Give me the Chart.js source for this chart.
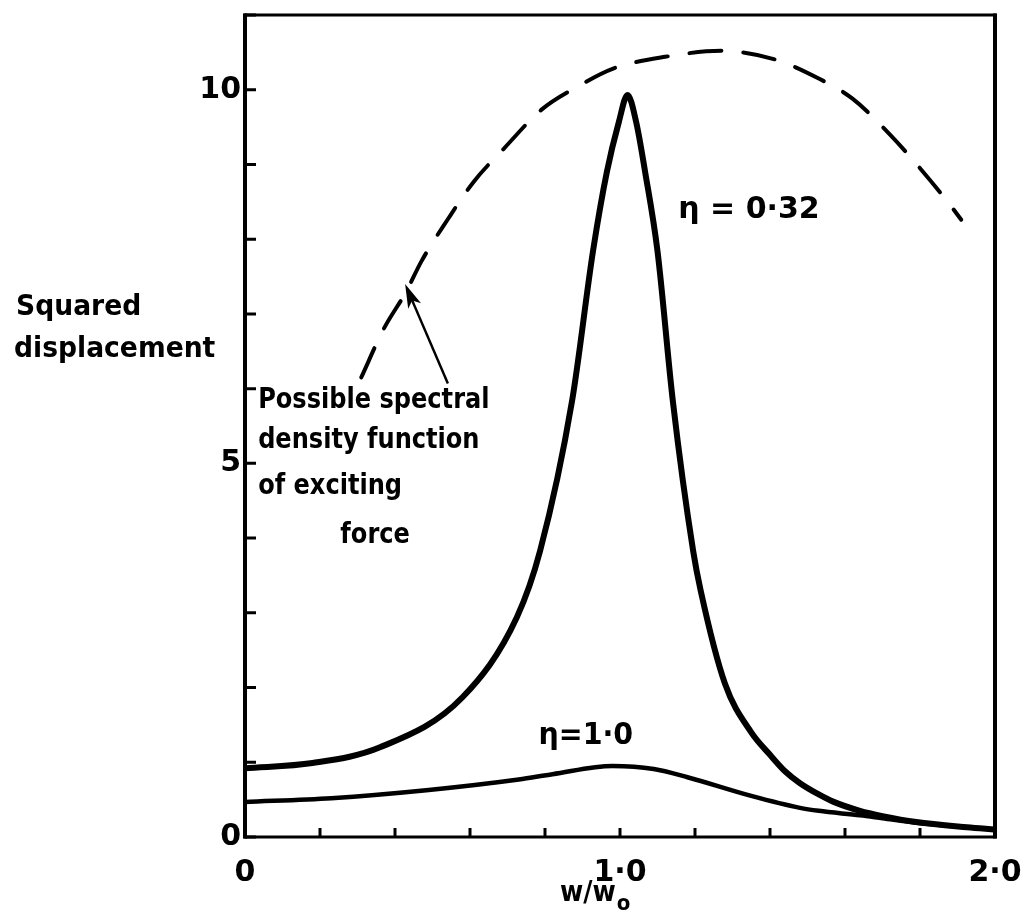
<!DOCTYPE html>
<html>
<head>
<meta charset="utf-8">
<script src="https://cdn.jsdelivr.net/npm/chart.js@4.4.0/dist/chart.umd.min.js"></script>
<style>
  html, body { margin: 0; padding: 0; background: #fff; }
  #wrap { width: 1032px; height: 914px; position: relative; }
</style>
</head>
<body>
<div id="wrap"><canvas id="respChart"></canvas></div>
<script>
// frequency ratio w/w0 and squared displacement
const ratioLow = [0, 0.18, 0.36, 0.58, 0.725, 0.787, 0.872, 0.928, 0.965, 0.997, 1.02, 1.043, 1.067, 1.10, 1.141, 1.195, 1.215, 1.28, 1.35, 1.40, 1.44, 1.48, 1.53, 1.57, 1.64, 1.70, 1.79, 1.925, 2.0];
const dispLow  = [0.92, 0.99, 1.2, 1.87, 2.94, 3.83, 5.83, 7.84, 8.9, 9.57, 9.93, 9.57, 8.9, 7.84, 5.83, 3.83, 3.3, 2.05, 1.4, 1.1, 0.88, 0.72, 0.57, 0.47, 0.35, 0.28, 0.2, 0.13, 0.1];

const ratioHigh = [0, 0.23, 0.49, 0.73, 0.82, 0.98, 1.09, 1.18, 1.35, 1.48, 1.53, 1.64, 1.70, 1.79, 1.925, 2.0];
const dispHigh  = [0.47, 0.52, 0.63, 0.77, 0.84, 0.95, 0.91, 0.80, 0.55, 0.39, 0.35, 0.29, 0.25, 0.19, 0.13, 0.1];

// possible spectral density of the exciting force (dashed)
const ratioForce = [0.31, 0.37, 0.43, 0.47, 0.54, 0.61, 0.69, 0.79, 0.89, 0.98, 1.12, 1.27, 1.41, 1.53, 1.62, 1.72, 1.80, 1.88, 1.91];
const dispForce  = [6.15, 6.8, 7.3, 7.7, 8.26, 8.77, 9.21, 9.73, 10.05, 10.28, 10.44, 10.52, 10.41, 10.15, 9.88, 9.4, 8.95, 8.46, 8.26];

const xLabelValues = [0, 1, 2];
const xLabelTexts = ['0', '1·0', '2·0'];
const yLabelValues = [0, 5, 10];

function toPoints(xs, ys) {
    return xs.map((v, i) => ({ x: v, y: ys[i] }));
}

function squeezeText(ctx, str, px, py, sx, align) {
    ctx.save();
    ctx.translate(px, py);
    ctx.scale(sx, 1);
    ctx.textAlign = align || 'left';
    ctx.fillText(str, 0, 0);
    ctx.restore();
}

const FONT = '"DejaVu Sans", "Liberation Sans", sans-serif';

// frame, inward ticks and hand lettering
const sketchPlugin = {
    id: 'sketch',
    afterDraw(chart) {
        const { ctx, chartArea: a, scales: { x, y } } = chart;
        ctx.save();
        ctx.strokeStyle = '#000';
        ctx.fillStyle = '#000';
        ctx.lineCap = 'butt';

        // box
        ctx.lineWidth = 3;
        ctx.strokeRect(a.left, a.top, a.right - a.left, a.bottom - a.top);
        ctx.lineWidth = 4;
        ctx.beginPath();
        ctx.moveTo(a.left, a.top - 1.5);
        ctx.lineTo(a.left, a.bottom + 1.5);
        ctx.moveTo(a.right, a.top - 1.5);
        ctx.lineTo(a.right, a.bottom + 1.5);
        ctx.stroke();

        // ticks pointing inward
        ctx.lineWidth = 3;
        ctx.beginPath();
        y.ticks.forEach(t => {
            const py = y.getPixelForValue(t.value);
            ctx.moveTo(a.left, py);
            ctx.lineTo(a.left + 11, py);
        });
        x.ticks.forEach(t => {
            const px = x.getPixelForValue(t.value);
            ctx.moveTo(px, a.bottom);
            ctx.lineTo(px, a.bottom - 9);
        });
        ctx.stroke();

        ctx.textBaseline = 'alphabetic';
        ctx.font = 'bold 28px ' + FONT;

        // y axis title
        squeezeText(ctx, 'Squared', 16, 315, 0.95);
        squeezeText(ctx, 'displacement', 14, 357, 0.95);

        // annotation text
        const tx = x.getPixelForValue(0.035);
        squeezeText(ctx, 'Possible spectral', tx, y.getPixelForValue(5.74), 0.86);
        squeezeText(ctx, 'density function', tx, y.getPixelForValue(5.21), 0.86);
        squeezeText(ctx, 'of exciting', tx, y.getPixelForValue(4.59), 0.86);
        squeezeText(ctx, 'force', x.getPixelForValue(0.347), y.getPixelForValue(3.93), 0.86, 'center');

        ctx.font = 'bold 30px ' + FONT;
        squeezeText(ctx, 'η = 0·32', x.getPixelForValue(1.344), y.getPixelForValue(8.28), 1.0, 'center');
        squeezeText(ctx, 'η=1·0', x.getPixelForValue(0.909), y.getPixelForValue(1.25), 0.95, 'center');

        // arrow to the dashed curve
        const x0 = x.getPixelForValue(0.541), y0 = y.getPixelForValue(6.07);
        const x1 = x.getPixelForValue(0.427), y1 = y.getPixelForValue(7.40);
        const ang = Math.atan2(y1 - y0, x1 - x0);
        ctx.lineWidth = 2.5;
        ctx.beginPath();
        ctx.moveTo(x0, y0);
        ctx.lineTo(x1 - 14 * Math.cos(ang), y1 - 14 * Math.sin(ang));
        ctx.stroke();
        ctx.beginPath();
        ctx.moveTo(x1, y1);
        ctx.lineTo(x1 - 24 * Math.cos(ang) + 7 * Math.sin(ang), y1 - 24 * Math.sin(ang) - 7 * Math.cos(ang));
        ctx.lineTo(x1 - 18 * Math.cos(ang), y1 - 18 * Math.sin(ang));
        ctx.lineTo(x1 - 24 * Math.cos(ang) - 7 * Math.sin(ang), y1 - 24 * Math.sin(ang) + 7 * Math.cos(ang));
        ctx.closePath();
        ctx.fill();

        // x axis title w/w0
        ctx.font = 'bold 28px ' + FONT;
        const cx = x.getPixelForValue(0.84);
        squeezeText(ctx, 'w/w', cx, a.bottom + 64, 0.9);
        const ww = ctx.measureText('w/w').width * 0.9;
        ctx.font = 'bold 22px ' + FONT;
        squeezeText(ctx, 'o', cx + ww + 1, a.bottom + 73, 0.9);

        ctx.restore();
    }
};

document.addEventListener('DOMContentLoaded', function() {
    const ctx = document.getElementById('respChart').getContext('2d');
    const respChart = new Chart(ctx, {
        type: 'line',
        data: {
            datasets: [{
                label: 'η = 0.32',
                data: toPoints(ratioLow, dispLow),
                borderColor: '#000',
                borderWidth: 6,
                cubicInterpolationMode: 'monotone',
                borderCapStyle: 'round',
                borderJoinStyle: 'round',
                pointRadius: 0,
                fill: false
            }, {
                label: 'η = 1.0',
                data: toPoints(ratioHigh, dispHigh),
                borderColor: '#000',
                borderWidth: 4.5,
                cubicInterpolationMode: 'monotone',
                borderCapStyle: 'round',
                pointRadius: 0,
                fill: false
            }, {
                label: 'Possible spectral density function of exciting force',
                data: toPoints(ratioForce, dispForce),
                borderColor: '#000',
                borderWidth: 4,
                borderDash: [32, 22],
                borderCapStyle: 'round',
                cubicInterpolationMode: 'monotone',
                pointRadius: 0,
                fill: false
            }]
        },
        options: {
            responsive: true,
            maintainAspectRatio: false,
            animation: false,
            layout: {
                padding: { left: 0, top: 15, right: 37, bottom: 0 }
            },
            plugins: {
                legend: { display: false },
                tooltip: { enabled: false }
            },
            scales: {
                x: {
                    type: 'linear',
                    min: 0,
                    max: 2,
                    grid: { display: false, drawTicks: false },
                    border: { display: false },
                    afterFit: function(scale) {
                        scale.height = 77;
                        scale.paddingLeft = 0;
                        scale.paddingRight = 0;
                    },
                    ticks: {
                        stepSize: 0.2,
                        autoSkip: false,
                        maxRotation: 0,
                        padding: 18,
                        color: '#000',
                        font: { family: FONT, size: 30, weight: 'bold' },
                        callback: function(value) {
                            const i = xLabelValues.findIndex(v => Math.abs(v - value) < 1e-6);
                            return i >= 0 ? xLabelTexts[i] : '';
                        }
                    }
                },
                y: {
                    type: 'linear',
                    min: 0,
                    max: 11,
                    grid: { display: false, drawTicks: false },
                    border: { display: false },
                    afterFit: function(scale) {
                        scale.width = 245;
                        scale.paddingTop = 0;
                        scale.paddingBottom = 0;
                    },
                    ticks: {
                        stepSize: 1,
                        autoSkip: false,
                        padding: 4,
                        color: '#000',
                        font: { family: FONT, size: 30, weight: 'bold' },
                        callback: function(value) {
                            return yLabelValues.some(v => Math.abs(v - value) < 1e-6) ? String(value) : '';
                        }
                    }
                }
            }
        },
        plugins: [sketchPlugin]
    });
});
</script>
</body>
</html>
